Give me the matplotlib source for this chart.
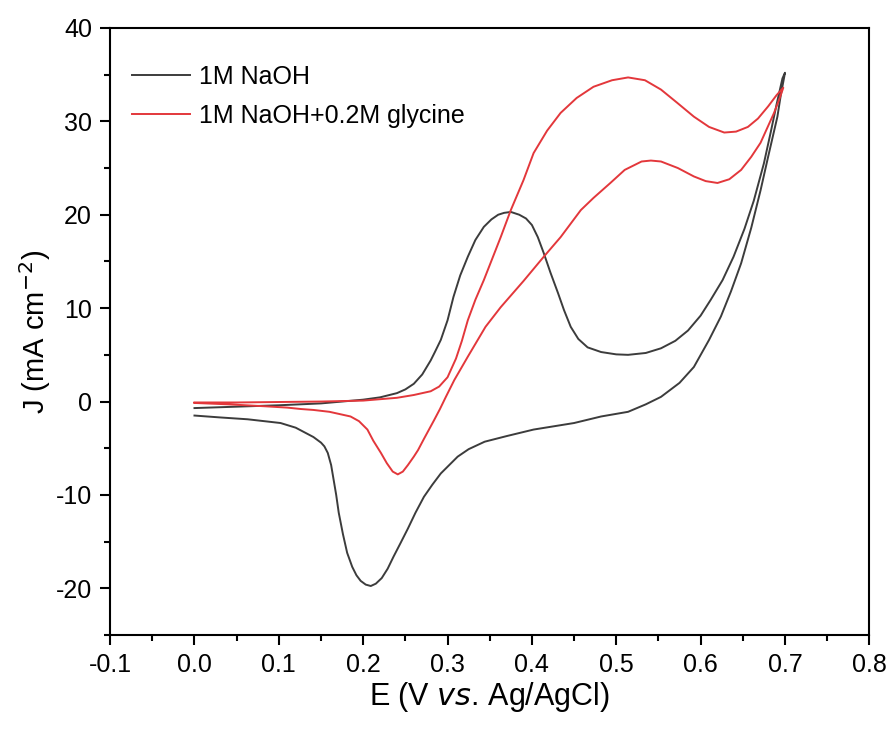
import numpy as np
import matplotlib
matplotlib.use("Agg")
import matplotlib.pyplot as plt
from matplotlib.ticker import MultipleLocator

plt.rcParams['font.family'] = ['Liberation Sans', 'DejaVu Sans']
plt.rcParams['axes.unicode_minus'] = False

# 1M NaOH, anodic sweep then cathodic sweep (E in V, J in mA cm-2)
naoh_fwd_E = [0.000, 0.05, 0.10, 0.15, 0.20, 0.22, 0.24, 0.25, 0.26, 0.27, 0.28, 0.285,
              0.292, 0.30, 0.307, 0.315, 0.324, 0.333, 0.343, 0.352, 0.36, 0.367, 0.375,
              0.385, 0.393, 0.40, 0.407, 0.414, 0.422, 0.431, 0.438, 0.446, 0.455, 0.466,
              0.482, 0.50, 0.514, 0.535, 0.553, 0.57, 0.585, 0.60, 0.612, 0.626, 0.639,
              0.652, 0.663, 0.675, 0.683, 0.69, 0.697, 0.70]
naoh_fwd_J = [-0.7, -0.55, -0.4, -0.2, 0.2, 0.45, 0.9, 1.3, 1.9, 2.9, 4.4, 5.3,
              6.6, 8.7, 11.2, 13.5, 15.5, 17.3, 18.7, 19.5, 20.0, 20.2, 20.3,
              20.0, 19.6, 18.9, 17.6, 15.9, 13.8, 11.6, 9.8, 8.0, 6.7, 5.8,
              5.3, 5.05, 5.0, 5.2, 5.7, 6.5, 7.6, 9.2, 10.9, 13.0, 15.5,
              18.5, 21.5, 25.5, 28.8, 31.8, 34.6, 35.2]
naoh_rev_E = [0.70, 0.695, 0.691, 0.68, 0.671, 0.66, 0.648, 0.636, 0.624, 0.61, 0.592,
              0.575, 0.553, 0.535, 0.514, 0.482, 0.45, 0.402, 0.37, 0.344, 0.325, 0.312,
              0.302, 0.292, 0.282, 0.272, 0.262, 0.253, 0.244, 0.236, 0.229, 0.222, 0.215,
              0.209, 0.203, 0.197, 0.192, 0.187, 0.181, 0.176, 0.171, 0.168, 0.165, 0.162,
              0.158, 0.154, 0.15, 0.141, 0.12, 0.102, 0.063, 0.03, 0.00]
naoh_rev_J = [35.2, 32.8, 30.5, 26.2, 22.6, 18.6, 14.8, 11.8, 9.1, 6.6, 3.7,
              2.0, 0.5, -0.3, -1.1, -1.6, -2.3, -3.0, -3.7, -4.3, -5.1, -5.9,
              -6.8, -7.7, -8.9, -10.2, -11.9, -13.6, -15.2, -16.6, -17.9, -18.9, -19.5,
              -19.75, -19.6, -19.2, -18.6, -17.7, -16.2, -14.2, -11.9, -10.0, -8.4, -6.8,
              -5.5, -4.8, -4.4, -3.8, -2.8, -2.3, -1.9, -1.7, -1.5]

# 1M NaOH + 0.2M glycine
gly_fwd_E = [0.00, 0.05, 0.10, 0.15, 0.20, 0.24, 0.26, 0.28, 0.29, 0.30, 0.31, 0.317,
             0.324, 0.333, 0.343, 0.353, 0.363, 0.375, 0.39, 0.402, 0.418, 0.434, 0.453,
             0.473, 0.495, 0.514, 0.534, 0.553, 0.572, 0.592, 0.61, 0.628, 0.642, 0.656,
             0.668, 0.68, 0.69, 0.698]
gly_fwd_J = [-0.1, -0.1, -0.05, 0.0, 0.1, 0.4, 0.7, 1.1, 1.6, 2.6, 4.6, 6.5,
             8.7, 10.9, 13.0, 15.3, 17.6, 20.5, 23.7, 26.6, 29.0, 30.9, 32.5,
             33.7, 34.4, 34.7, 34.4, 33.4, 32.0, 30.5, 29.4, 28.8, 28.9, 29.4,
             30.3, 31.6, 32.8, 33.6]
gly_rev_E = [0.698, 0.693, 0.687, 0.679, 0.671, 0.66, 0.648, 0.634, 0.62, 0.606, 0.592,
             0.573, 0.553, 0.541, 0.53, 0.51, 0.493, 0.473, 0.458, 0.434, 0.414, 0.39,
             0.363, 0.345, 0.324, 0.308, 0.298, 0.291, 0.284, 0.272, 0.265, 0.26, 0.253,
             0.247, 0.241, 0.235, 0.228, 0.221, 0.212, 0.205, 0.195, 0.185, 0.16, 0.141,
             0.126, 0.11, 0.082, 0.04, 0.00]
gly_rev_J = [33.6, 32.3, 30.9, 29.3, 27.7, 26.2, 24.8, 23.8, 23.4, 23.6, 24.1,
             25.0, 25.7, 25.8, 25.7, 24.8, 23.4, 21.8, 20.5, 17.6, 15.5, 12.9,
             10.1, 8.0, 4.8, 2.3, 0.5, -0.8, -2.0, -4.0, -5.2, -5.9, -6.8,
             -7.5, -7.8, -7.5, -6.6, -5.5, -4.2, -3.0, -2.1, -1.6, -1.1, -0.9,
             -0.8, -0.65, -0.5, -0.3, -0.15]

labels = ['1M NaOH', '1M NaOH+0.2M glycine']
colors = ['#3c3c3c', '#e3373b']

fig = plt.figure(figsize=(8.88, 7.35), dpi=100)
ax = fig.add_axes([0.124, 0.136, 0.855, 0.826])

ax.plot(naoh_fwd_E + naoh_rev_E, naoh_fwd_J + naoh_rev_J, color=colors[0], lw=1.4,
        label=labels[0], solid_joinstyle='round')
ax.plot(gly_fwd_E + gly_rev_E, gly_fwd_J + gly_rev_J, color=colors[1], lw=1.4,
        label=labels[1], solid_joinstyle='round')

ax.set_xlim(-0.1, 0.8)
ax.set_ylim(-25, 40)
ax.xaxis.set_major_locator(MultipleLocator(0.1))
ax.xaxis.set_minor_locator(MultipleLocator(0.05))
ax.yaxis.set_major_locator(MultipleLocator(10))
ax.yaxis.set_minor_locator(MultipleLocator(5))
ax.xaxis.set_major_formatter(plt.FuncFormatter(lambda v, p: f"{v:.1f}"))
ax.tick_params(which='both', direction='out', top=False, right=False, width=1.5)
ax.tick_params(which='major', length=7, pad=6, labelsize=18)
ax.tick_params(which='minor', length=4)
for s in ax.spines.values():
    s.set_linewidth(1.5)

ax.set_xlabel('E (V $\\mathit{vs}$. Ag/AgCl)', fontsize=22, labelpad=2)
ax.set_ylabel('J (mA cm$^{-2}$)', fontsize=21, labelpad=2)

ax.legend(loc='upper left', bbox_to_anchor=(0.016, 0.955), frameon=False, fontsize=18,
          handlelength=2.3, handletextpad=0.35, labelspacing=0.6, borderaxespad=0)

fig.savefig('out.png', dpi=100)
